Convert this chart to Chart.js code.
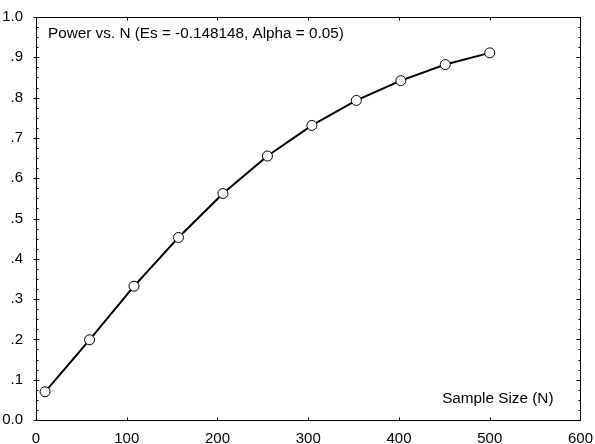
<!DOCTYPE html>
<html>
<head>
<meta charset="utf-8">
<script src="https://cdn.jsdelivr.net/npm/chart.js@4/dist/chart.umd.min.js"></script>
<style>
  html, body { margin: 0; padding: 0; background: #fff; }
  #wrap { width: 595px; height: 444px; }
</style>
</head>
<body>
<div id="wrap"><canvas id="chart1" width="595" height="444"></canvas></div>
<script>
// sample sizes and power
const sampleSizes = [10, 59, 108, 157, 206, 255, 304, 353, 402, 451, 500];
const powerValues = [0.070, 0.199, 0.332, 0.453, 0.562, 0.655, 0.731, 0.793, 0.842, 0.882, 0.911];

const titleText = "Power vs. N (Es = -0.148148, Alpha = 0.05)";
const xAxisText = "Sample Size (N)";

const FONT = "Arial, 'Liberation Sans', sans-serif";

// frame, tick marks and the in-plot texts
const framePlugin = {
  id: "frame",
  afterDraw(chart) {
    const { ctx, chartArea: a, scales } = chart;
    const x = scales.x, y = scales.y;
    ctx.save();
    ctx.strokeStyle = "#000";
    ctx.lineWidth = 1;
    ctx.strokeRect(Math.round(a.left) + 0.5, Math.round(a.top) + 0.5,
      Math.round(a.right - a.left), Math.round(a.bottom - a.top));

    ctx.beginPath();
    // y ticks: majors every 0.1, minors every 0.025
    for (let i = 0; i <= 40; i++) {
      const py = Math.round(y.getPixelForValue(i * 0.025)) + 0.5;
      const major = i % 4 === 0;
      const l = Math.round(a.left) + 0.5, r = Math.round(a.right) + 0.5;
      if (major) {
        ctx.moveTo(l - 3, py); ctx.lineTo(l + 3, py);
        ctx.moveTo(r - 4, py); ctx.lineTo(r, py);
      } else {
        ctx.moveTo(l, py); ctx.lineTo(l + 2, py);
        ctx.moveTo(r - 2, py); ctx.lineTo(r, py);
      }
    }
    // x ticks every 100
    for (let v = 100; v < 600; v += 100) {
      const px = Math.round(x.getPixelForValue(v)) + 0.5;
      const b = Math.round(a.bottom) + 0.5, t = Math.round(a.top) + 0.5;
      ctx.moveTo(px, b); ctx.lineTo(px, b - 3);
      ctx.moveTo(px, t); ctx.lineTo(px, t + 3);
    }
    ctx.stroke();

    ctx.fillStyle = "#000";
    ctx.font = "15.3px " + FONT;
    ctx.textBaseline = "middle";
    ctx.textAlign = "left";
    ctx.fillText(titleText, a.left + 12, a.top + 17);
    ctx.textAlign = "right";
    ctx.fillText(xAxisText, a.right - 27, a.bottom - 21);
    ctx.restore();
  },
};

const ctx = document.getElementById("chart1").getContext("2d");

new Chart(ctx, {
  type: "line",
  data: {
    datasets: [
      {
        data: sampleSizes.map((d, i) => ({ x: d, y: powerValues[i] })),
        borderColor: "#000",
        borderWidth: 2,
        pointRadius: 5,
        pointBackgroundColor: "#fff",
        pointBorderColor: "#000",
        pointBorderWidth: 1,
        tension: 0,
      },
    ],
  },
  options: {
    responsive: false,
    animation: false,
    layout: { padding: { top: 17, right: 10, left: 0, bottom: 0 } },
    plugins: { legend: { display: false }, tooltip: { enabled: false } },
    scales: {
      x: {
        type: "linear",
        min: 0,
        max: 600,
        ticks: { stepSize: 100, color: "#000", font: { size: 15, family: FONT }, padding: 2, maxRotation: 0 },
        grid: { display: false },
        border: { display: false },
        afterFit: (s) => { s.height = 24; },
      },
      y: {
        type: "linear",
        min: 0,
        max: 1,
        ticks: {
          stepSize: 0.1,
          color: "#000",
          font: { size: 15, family: FONT },
          padding: 5,
          callback: (v) => {
            const r = Math.round(v * 10);
            if (r === 0) return "0.0";
            if (r === 10) return "1.0";
            return "." + r;
          },
        },
        grid: { display: false },
        border: { display: false },
        afterFit: (s) => { s.width = 36; },
      },
    },
  },
  plugins: [framePlugin],
});
</script>
</body>
</html>
